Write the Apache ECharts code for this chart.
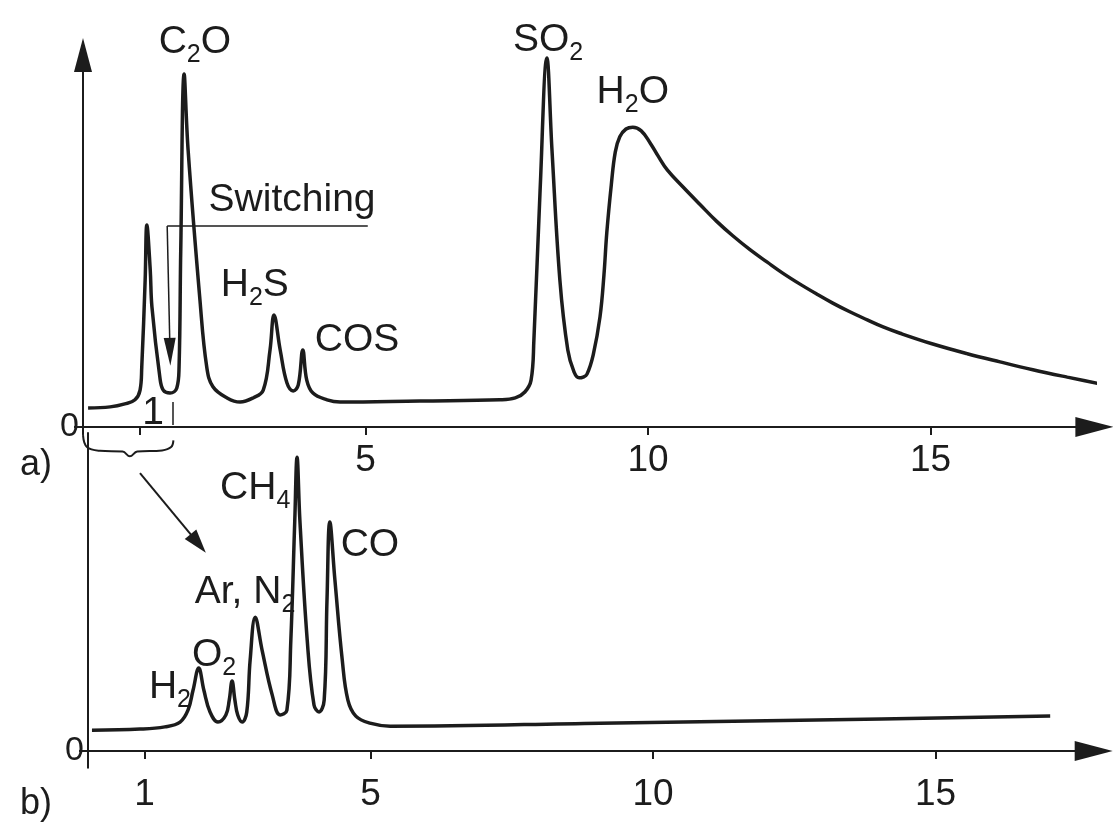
<!DOCTYPE html>
<html>
<head>
<meta charset="utf-8">
<script src="https://cdn.jsdelivr.net/npm/echarts@6/dist/echarts.min.js"></script>
<style>
  html, body { margin: 0; padding: 0; background: #fff; }
  #chart { width: 1113px; height: 832px; }
</style>
</head>
<body>
<div id="chart"></div>
<script>
// a) sulfur column: retention time (min) and detector signal
const timeA = [0.09, 0.48, 0.74, 0.92, 1.01, 1.04, 1.10, 1.13, 1.19, 1.22, 1.36, 1.42, 1.54, 1.66, 1.70, 1.73, 1.79, 1.86, 2.07, 2.19,
  2.30, 2.55, 2.78, 3.01, 3.19, 3.31, 3.38, 3.49, 3.61, 3.72, 3.81, 3.89, 3.96, 4.07, 4.32, 4.55, 5.96, 7.38, 7.65, 7.82,
  7.93, 7.98, 8.09, 8.21, 8.30, 8.44, 8.58, 8.69, 8.78, 8.85, 8.92, 9.03, 9.15, 9.22, 9.27, 9.35, 9.42, 9.50, 9.61, 9.73,
  9.88, 10.04, 10.18, 10.34, 10.62, 10.92, 11.22, 11.50, 11.81, 12.11, 12.39, 12.69, 12.99, 13.27, 13.58, 13.88, 14.16, 14.46, 15.04, 15.65,
  16.23, 16.81, 17.42, 18.00, 18.23];
const signalA = [5.1, 5.4, 6.2, 7.3, 9.9, 16.1, 39.5, 54.3, 42.2, 32.3, 13.4, 9.9, 9.1, 10.5, 16.1, 47.6, 94.9, 74.5, 34.1, 16.1,
  10.8, 7.8, 6.7, 7.8, 9.9, 20.7, 30.1, 20.7, 11.8, 9.7, 11.3, 20.7, 12.6, 9.1, 7.3, 6.7, 7.0, 7.3, 7.8, 9.4,
  12.6, 23.4, 63.7, 99.2, 74.5, 39.5, 20.7, 14.8, 13.2, 13.4, 14.2, 19.4, 29.6, 40.9, 52.2, 65.1, 73.9, 78.0, 80.1, 80.6,
  79.6, 76.3, 72.8, 69.1, 64.5, 59.8, 55.2, 51.4, 47.6, 44.3, 41.3, 38.4, 35.7, 33.3, 30.9, 28.8, 26.9, 25.2, 22.3, 19.7,
  17.5, 15.4, 13.4, 11.6, 10.8];

// b) permanent gases after switching
const timeB = [0.07, 0.92, 1.36, 1.63, 1.77, 1.86, 1.96, 2.05, 2.16, 2.30, 2.44, 2.50, 2.55, 2.60, 2.65, 2.73, 2.81, 2.87, 2.96, 3.08,
  3.26, 3.40, 3.52, 3.59, 3.66, 3.70, 3.75, 3.88, 4.00, 4.09, 4.18, 4.23, 4.28, 4.37, 4.50, 4.60, 4.74, 4.99, 5.35, 9.06, 12.60, 17.03];
const signalB = [5.6, 5.9, 6.5, 7.8, 11.0, 16.4, 22.3, 16.4, 10.5, 7.8, 9.7, 13.7, 18.8, 13.7, 9.7, 7.8, 10.5, 24.5, 36.0, 27.2,
  15.1, 9.7, 11.0, 29.8, 62.1, 79.0, 62.1, 29.8, 12.4, 10.5, 13.7, 40.6, 61.6, 46.0, 24.5, 13.7, 9.4, 7.5, 6.7, 7.5, 8.3, 9.4];

const tickLabels = [1, 5, 10, 15];
const switchTime = 1.58;

const namesA = ['C{s|2}O', 'Switching', 'H{s|2}S', 'COS', 'SO{s|2}', 'H{s|2}O', '1'];
const namesB = ['CH{s|4}', 'CO', 'Ar, N{s|2}', 'O{s|2}', 'H{s|2}'];

const ink = '#1c1c1c';
const font = 'Liberation Sans';

// where each peak name sits, in the panel's own time / signal units
const anchorsA = [[1.98, 103.5], [3.70, 61.0], [3.04, 38.2], [4.85, 23.4], [8.23, 104.0], [9.73, 90.1], [1.24, 3.8]];
const anchorsB = [[2.96, 70.7], [4.99, 55.4], [2.78, 42.7], [2.23, 25.8], [1.45, 17.2]];

function pairs(xs, ys) {
  return xs.map((x, i) => [x, ys[i]]);
}

const richText = {
  s: { fontSize: 25, fontFamily: font, fill: ink, verticalAlign: 'bottom', padding: [26, 0, 0, 0] }
};

function xAxisOf(gridIndex, max, labelValues) {
  return {
    type: 'value', gridIndex, min: 0, max,
    splitLine: { show: false },
    axisLine: { lineStyle: { color: ink, width: 2 }, symbol: ['none', 'triangle'], symbolSize: [20, 38] },
    axisTick: { customValues: tickLabels, length: 8, lineStyle: { color: ink, width: 2 } },
    axisLabel: { customValues: labelValues, color: ink, fontSize: 37, fontFamily: font, margin: 8 }
  };
}

function yAxisOf(gridIndex, min, max, arrow) {
  return {
    type: 'value', gridIndex, min, max,
    splitLine: { show: false },
    axisLine: { lineStyle: { color: ink, width: 2 }, symbol: arrow ? ['none', 'triangle'] : 'none', symbolSize: [18, 34] },
    axisTick: { customValues: [0], length: 9, lineStyle: { color: ink, width: 2 } },
    axisLabel: { customValues: [0], color: ink, fontSize: 34, fontFamily: font, margin: 4 }
  };
}

const chart = echarts.init(document.getElementById('chart'));

chart.setOption({
  backgroundColor: '#fff',
  animation: false,
  grid: [
    { left: 83, right: 18.6, top: 55, bottom: 397.6 },
    { left: 88, right: 19.3, top: 433, bottom: 64.2 }
  ],
  xAxis: [
    xAxisOf(0, 17.9, [5, 10, 15]),
    xAxisOf(1, 17.8, [1, 5, 10, 15])
  ],
  yAxis: [
    yAxisOf(0, -2, 100, true),
    yAxisOf(1, -4.5, 85.5, false)
  ],
  series: [
    {
      type: 'line', xAxisIndex: 0, yAxisIndex: 0,
      data: pairs(timeA, signalA),
      showSymbol: false, smooth: 0.4, clip: false,
      lineStyle: { color: ink, width: 3.5 },
      markLine: {
        silent: true, symbol: 'none',
        lineStyle: { color: ink, width: 1.5, type: 'solid' },
        label: { show: false },
        data: [
          [{ coord: [5.04, 54.0] }, { coord: [1.49, 54.0] }],
          [{ coord: [1.49, 54.0], symbol: 'none' }, { coord: [1.54, 20.2], symbol: 'triangle', symbolSize: [12, 28] }],
          [{ coord: [switchTime, 0.5] }, { coord: [switchTime, 6.7] }]
        ]
      }
    },
    {
      // brace marking the part of the run that goes on to b)
      type: 'line', xAxisIndex: 0, yAxisIndex: 0,
      data: [[0.0, -2.2], [0.07, -5.4], [0.3, -6.4], [0.7, -6.6], [0.83, -7.9], [0.96, -6.6], [1.4, -6.3], [1.56, -5.4], [1.6, -3.6]],
      showSymbol: false, smooth: 0.4, clip: false, silent: true,
      lineStyle: { color: ink, width: 2 }
    },
    {
      type: 'line', xAxisIndex: 1, yAxisIndex: 1,
      data: pairs(timeB, signalB),
      showSymbol: false, smooth: 0.4, clip: false,
      lineStyle: { color: ink, width: 3.5 },
      markLine: {
        silent: true, symbol: 'none',
        lineStyle: { color: ink, width: 2, type: 'solid' },
        label: { show: false },
        data: [
          [{ coord: [0.92, 74.7] }, { coord: [1.95, 55.8], symbol: 'triangle', symbolSize: [15, 24] }]
        ]
      }
    }
  ]
});

// peak names, placed through each grid's scales
function labelGraphics(names, anchors, gridIndex) {
  return names.map((n, i) => {
    const p = chart.convertToPixel({ gridIndex }, anchors[i]);
    return {
      type: 'text', x: p[0], y: p[1], silent: true,
      style: { text: n, fontSize: 39, fontFamily: font, fill: ink, align: 'center', verticalAlign: 'middle', rich: richText }
    };
  });
}

chart.setOption({
  graphic: [
    { type: 'text', left: 20, top: 447, style: { text: 'a)', fontSize: 36, fontFamily: font, fill: ink } },
    { type: 'text', left: 20, top: 786, style: { text: 'b)', fontSize: 36, fontFamily: font, fill: ink } }
  ].concat(labelGraphics(namesA, anchorsA, 0), labelGraphics(namesB, anchorsB, 1))
});
</script>
</body>
</html>
